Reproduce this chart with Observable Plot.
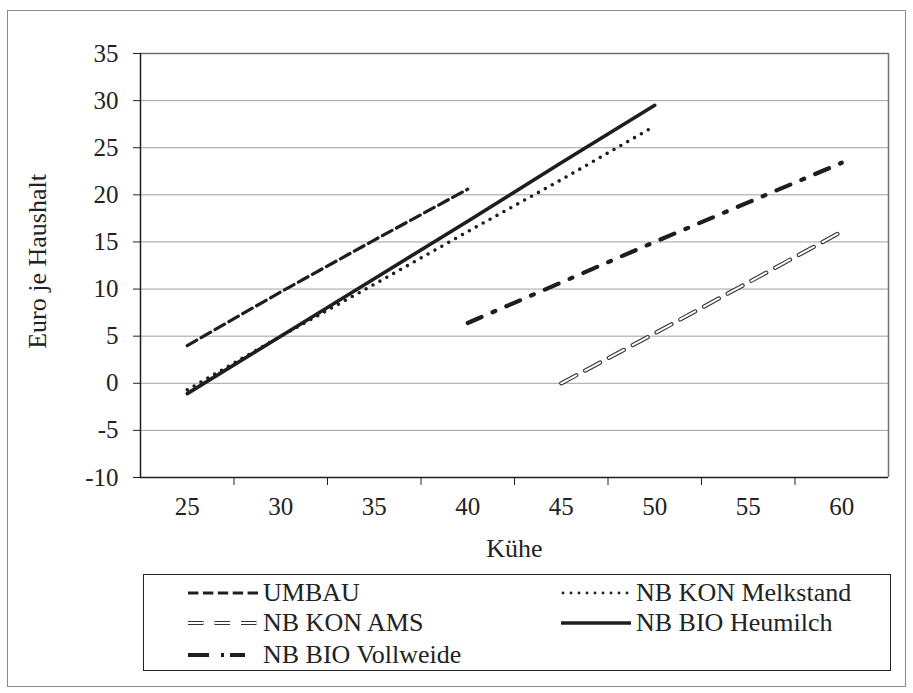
<!DOCTYPE html>
<html><head><meta charset="utf-8">
<script src="https://cdn.jsdelivr.net/npm/d3@7"></script>
<script src="https://cdn.jsdelivr.net/npm/@observablehq/plot@0.6"></script>
<style>
body{margin:0;background:#fff;}
#wrap{position:relative;width:913px;height:693px;font-family:"Liberation Serif",Tinos,"Times New Roman",Times,"DejaVu Serif","Noto Serif",serif;color:#222;}
#border{position:absolute;left:7px;top:10px;width:899px;height:677px;border:1px solid #8a8a8a;box-sizing:border-box;}
#chart{position:absolute;left:0;top:0;}
#legend{position:absolute;left:143px;top:574px;width:748px;height:97px;border:1.5px solid #222;box-sizing:border-box;font-size:26px;}
.item{position:absolute;display:flex;align-items:center;height:30px;white-space:nowrap;line-height:30px;}
.item svg{display:block;flex:none;}
.item span{margin-left:5px;}
</style></head><body>
<div id="wrap"><div id="border"></div><div id="chart"></div><div id="legend"></div></div>
<script>
// ---- data ----
const seriesNames = ["UMBAU", "NB KON Melkstand", "NB KON AMS", "NB BIO Heumilch", "NB BIO Vollweide"];
const umbauX = [25, 30, 35, 40];
const umbauY = [4.0, 9.7, 15.2, 20.6];
const melkX = [25, 30, 35, 40, 45, 50];
const melkY = [-0.7, 5.0, 10.5, 16.1, 21.6, 27.3];
const amsX = [45, 50, 55, 60];
const amsY = [0.0, 5.3, 10.7, 16.1];
const heuX = [25, 30, 35, 40, 45, 50];
const heuY = [-1.1, 5.0, 11.1, 17.2, 23.4, 29.5];
const vollX = [40, 45, 50, 55, 60];
const vollY = [6.4, 10.7, 15.0, 19.2, 23.4];
const xTickLabels = [25, 30, 35, 40, 45, 50, 55, 60];
const xTickMarks = [27.5, 32.5, 37.5, 42.5, 47.5, 52.5, 57.5];
const xDomain = [22.5, 62.5];
const yTicks = [-10, -5, 0, 5, 10, 15, 20, 25, 30, 35];
const yDomain = [-10, 35];
const xTitle = "Kühe";
const yTitle = "Euro je Haushalt";

const rows = (xs, ys) => xs.map((x, i) => ({x, y: ys[i]}));
const ink = "#1e1e1e";
const serif = "'Liberation Serif',Tinos,'Times New Roman',Times,'DejaVu Serif','Noto Serif',serif";
const hyphenFormat = d => (d < 0 ? "-" + Math.abs(d) : String(d));

const chart = Plot.plot({
  width: 913,
  height: 570,
  marginLeft: 140,
  marginRight: 25,
  marginTop: 53,
  marginBottom: 93,
  style: {fontFamily: serif, fontSize: "25px", color: "#222", background: "transparent", overflow: "visible"},
  x: {type: "linear", domain: xDomain},
  y: {type: "linear", domain: yDomain},
  marks: [
    Plot.ruleY(yTicks.filter(v => v > yDomain[0] && v < yDomain[1]), {stroke: "#a0a0a0", strokeWidth: 1}),
    Plot.ruleY([yDomain[1]], {stroke: "#707070", strokeWidth: 1.5}),
    Plot.ruleX([xDomain[1]], {stroke: "#707070", strokeWidth: 1.5}),
    Plot.axisY({ticks: yTicks, tickSize: 7, tickPadding: 15, label: null, fontSize: 25, fontFamily: serif, tickFormat: hyphenFormat}),
    Plot.axisX({ticks: xTickLabels, tickSize: 0, tickPadding: 20, label: null, fontSize: 25, fontFamily: serif, tickFormat: hyphenFormat}),
    Plot.axisX({ticks: xTickMarks, tickSize: 8, tickFormat: () => "", label: null}),
    Plot.ruleY([yDomain[0]], {stroke: ink, strokeWidth: 1.5}),
    Plot.ruleX([xDomain[0]], {stroke: ink, strokeWidth: 1.5}),
    // series
    Plot.line(rows(umbauX, umbauY), {x: "x", y: "y", stroke: ink, strokeWidth: 3.2, strokeDasharray: "11,5"}),
    Plot.line(rows(melkX, melkY), {x: "x", y: "y", stroke: ink, strokeWidth: 3.6, strokeDasharray: "0,7.9", strokeLinecap: "round"}),
    Plot.line(rows(amsX, amsY), {x: "x", y: "y", stroke: "#333", strokeWidth: 4.2, strokeDasharray: "17,10"}),
    Plot.line(rows(amsX, amsY), {x: "x", y: "y", stroke: "#fff", strokeWidth: 2, strokeDasharray: "17,10"}),
    Plot.line(rows(heuX, heuY), {x: "x", y: "y", stroke: ink, strokeWidth: 3.6}),
    Plot.line(rows(vollX, vollY), {x: "x", y: "y", stroke: ink, strokeWidth: 4.2, strokeDasharray: "15,12,3,12"}),
    // titles
    Plot.text([xTitle], {text: d => d, frameAnchor: "bottom", textAnchor: "middle", lineAnchor: "middle", dy: 71, fontSize: 26, fontFamily: serif}),
    Plot.text([yTitle], {text: d => d, frameAnchor: "left", textAnchor: "middle", lineAnchor: "middle", dx: -103, dy: -4, rotate: -90, fontSize: 26, fontFamily: serif})
  ]
});
document.getElementById("chart").appendChild(chart);

// ---- legend ----
const swatches = {
  "UMBAU": `<line x1="0" y1="15" x2="70" y2="15" stroke="${ink}" stroke-width="3.2" stroke-dasharray="10.4,4.5"/>`,
  "NB KON Melkstand": `<line x1="2" y1="15" x2="68" y2="15" stroke="${ink}" stroke-width="2.8" stroke-dasharray="0,8" stroke-linecap="round"/>`,
  "NB KON AMS": `<line x1="0" y1="15" x2="70" y2="15" stroke="#333" stroke-width="4.2" stroke-dasharray="15.5,11"/><line x1="0" y1="15" x2="70" y2="15" stroke="#fff" stroke-width="2" stroke-dasharray="15.5,11"/>`,
  "NB BIO Heumilch": `<line x1="0" y1="15" x2="70" y2="15" stroke="${ink}" stroke-width="3.6"/>`,
  "NB BIO Vollweide": `<line x1="0" y1="15" x2="70" y2="15" stroke="${ink}" stroke-width="4" stroke-dasharray="21,12,3,6,15,100"/>`
};
const legendPos = [[44, 3], [417, 3], [44, 33], [417, 33], [44, 65]];
const legend = document.getElementById("legend");
seriesNames.forEach((name, i) => {
  const d = document.createElement("div");
  d.className = "item";
  d.style.left = legendPos[i][0] + "px";
  d.style.top = legendPos[i][1] + "px";
  d.innerHTML = `<svg width="70" height="30">${swatches[name]}</svg><span>${name}</span>`;
  legend.appendChild(d);
});
</script>
</body></html>
